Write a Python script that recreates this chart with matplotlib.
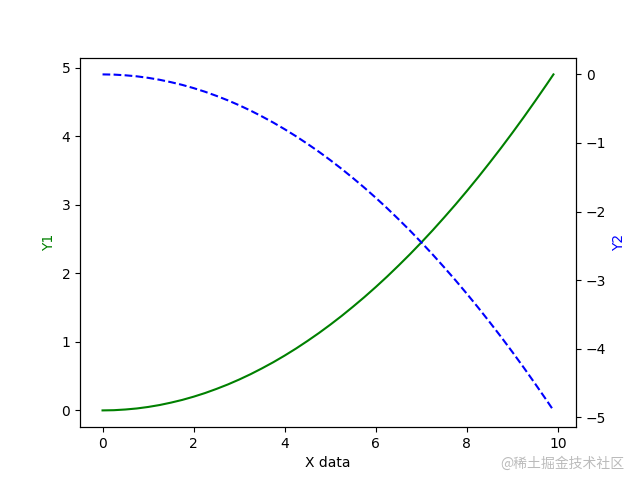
import matplotlib
matplotlib.use("Agg")
import matplotlib.pyplot as plt

x = [0.0, 0.25, 0.5, 0.75, 1.0, 1.25, 1.5, 1.75, 2.0, 2.25, 2.5, 2.75, 3.0,
     3.25, 3.5, 3.75, 4.0, 4.25, 4.5, 4.75, 5.0, 5.25, 5.5, 5.75, 6.0, 6.25,
     6.5, 6.75, 7.0, 7.25, 7.5, 7.75, 8.0, 8.25, 8.5, 8.75, 9.0, 9.25, 9.5,
     9.75, 9.9]
y1 = [0.0, 0.003, 0.013, 0.028, 0.05, 0.078, 0.113, 0.153, 0.2, 0.253, 0.313,
      0.378, 0.45, 0.528, 0.613, 0.703, 0.8, 0.903, 1.013, 1.128, 1.25, 1.378,
      1.513, 1.653, 1.8, 1.953, 2.113, 2.278, 2.45, 2.628, 2.813, 3.003, 3.2,
      3.403, 3.613, 3.828, 4.05, 4.278, 4.513, 4.753, 4.9]
y2 = [0.0, -0.003, -0.013, -0.028, -0.05, -0.078, -0.113, -0.153, -0.2, -0.253,
      -0.313, -0.378, -0.45, -0.528, -0.613, -0.703, -0.8, -0.903, -1.013,
      -1.128, -1.25, -1.378, -1.513, -1.653, -1.8, -1.953, -2.113, -2.278,
      -2.45, -2.628, -2.813, -3.003, -3.2, -3.403, -3.613, -3.828, -4.05,
      -4.278, -4.513, -4.753, -4.9]

fig, ax1 = plt.subplots(figsize=(6.4, 4.8), dpi=100)
ax1.plot(x, y1, 'g-')
ax2 = ax1.twinx()
ax2.plot(x, y2, 'b--')
ax1.set_xlabel('X data')
ax1.set_ylabel('Y1', color='g')
ax2.set_ylabel('Y2', color='b')

fig.text(0.975, 0.035, '@稀土掘金技术社区', ha='right', va='center',
         fontsize=10, color='#bbbbbb',
         family=['Noto Sans CJK SC', 'DejaVu Sans'])

fig.savefig('out.png', dpi=100)
